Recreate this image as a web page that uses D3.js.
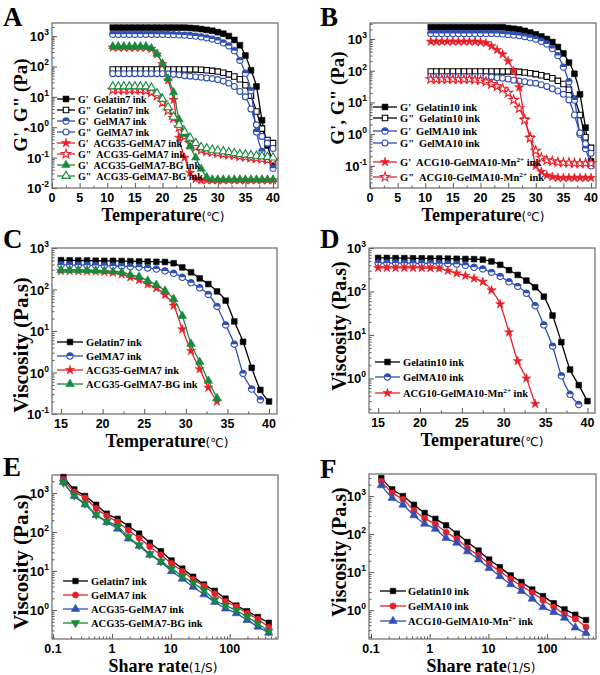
<!DOCTYPE html>
<html><head><meta charset="utf-8">
<script src="https://cdn.jsdelivr.net/npm/d3@7"></script>
<style>body{margin:0;background:#fff}</style>
</head><body>
<svg id="c" width="600" height="675" xmlns="http://www.w3.org/2000/svg"></svg>
<script>
// ---------------- DATA ----------------
const tempA = [11,12,13,14,15,16,17,18,19,20,21,22,23,24,25,26,27,28,29,30,31,32,33,34,35,36,37,38,39,40];
const gelatin7Gp  = [1900,1900,1900,1900,1900,1900,1900,1900,1900,1900,1900,1900,1900,1900,1850,1800,1700,1600,1500,1350,1200,1000,750,500,230,75,22,1.7,0.25,0.07];
const gelatin7Gpp = [80,80,80,80,80,80,80,80,80,80,80,80,80,80,80,80,78,75,72,68,62,55,47,38,24,11,3.3,0.9,0.38,0.3];
const gelma7Gp    = [1150,1150,1150,1150,1150,1150,1150,1150,1150,1150,1140,1120,1100,1080,1050,1000,950,880,800,720,600,480,330,160,60,16,0.7,0.16,0.09,0.045];
const gelma7Gpp   = [58,58,58,58,58,58,58,58,58,58,57,55,53,50,48,46,44,42,40,37,33,28,22,15,10,4,1.2,0.5,0.3,0.2];
const acg35Gp     = [420,420,420,420,420,420,420,380,250,120,35,8,0.45,0.1,0.032,0.02,0.018,0.018,0.018,0.018,0.018,0.018,0.018,0.018,0.018,0.018,0.018,0.018,0.018,0.018];
const acg35Gpp    = [17,17,17,17,17,17,16,14,11,6.5,3.5,2,1,0.5,0.3,0.22,0.18,0.16,0.15,0.14,0.13,0.125,0.12,0.11,0.105,0.1,0.095,0.09,0.085,0.08];
const acg35bgGp   = [460,460,460,460,460,460,460,400,260,125,40,14,1.8,0.6,0.23,0.1,0.043,0.023,0.019,0.019,0.019,0.019,0.019,0.019,0.019,0.019,0.019,0.019,0.019,0.019];
const acg35bgGpp  = [22,22,22,22,22,22,22,20,13,8.5,4.5,2.2,1.2,0.7,0.45,0.3,0.22,0.2,0.18,0.17,0.16,0.15,0.14,0.13,0.125,0.12,0.115,0.11,0.105,0.1];

const tempB = [11,12,13,14,15,16,17,18,19,20,21,22,23,24,25,26,27,28,29,30,31,32,33,34,35,36,37,38,39,40];
const gelatin10Gp  = [2350,2350,2350,2350,2350,2350,2350,2350,2350,2350,2350,2350,2350,2350,2200,2100,2000,1800,1600,1400,1200,1000,800,560,350,180,80,18,1.6,0.14];
const gelatin10Gpp = [95,95,95,95,95,95,95,95,95,95,95,95,95,95,95,94,92,88,83,78,72,65,58,48,38,25,13,4,0.8,0.37];
const gelma10Gp    = [1500,1500,1500,1500,1500,1500,1500,1500,1500,1500,1500,1500,1480,1450,1400,1350,1280,1200,1100,1000,850,700,500,300,130,45,12,1.0,0.35,0.1];
const gelma10Gpp   = [66,66,66,66,66,66,66,66,66,66,65,63,60,58,55,50,47,45,42,40,36,32,27,23,18,12,4,1.1,0.5,0.25];
const acg10Gp      = [830,830,830,830,830,830,830,830,830,800,750,600,450,330,200,100,30,3,0.8,0.1,0.065,0.05,0.045,0.042,0.042,0.042,0.042,0.042,0.042,0.042];
const acg10Gpp     = [54,54,54,54,54,54,54,54,52,50,45,38,32,27,20,12,6.5,2.8,0.75,0.3,0.18,0.15,0.14,0.13,0.125,0.125,0.12,0.12,0.12,0.12];

const tempC = [15,16.04,17.08,18.13,19.17,20.21,21.25,22.29,23.33,24.38,25.42,26.46,27.5,28.54,29.58,30.63,31.67,32.71,33.75,34.79,35.83,36.88,37.92,38.96,40];
const viscGelatin7 = [510,505,500,500,495,490,490,485,480,475,470,465,460,430,340,260,185,135,90,54,17,5.5,1.3,0.38,0.2];
const viscGelma7   = [390,390,385,385,380,375,370,365,355,345,330,310,280,245,197,145,110,76,39,14,4.8,0.95,0.4,0.22];
const viscAcg35    = [280,280,278,275,272,265,255,233,197,170,134,108,74,41,11,3.3,1.2,0.43,0.2];
const viscAcg35bg  = [295,295,292,290,285,280,270,260,225,204,163,129,93,59,23,4.9,1.8,0.63,0.24];

const tempD = [15,16.04,17.08,18.13,19.17,20.21,21.25,22.29,23.33,24.38,25.42,26.46,27.5,28.54,29.58,30.63,31.67,32.71,33.75,34.79,35.83,36.88,37.92,38.96,40];
const viscGelatin10 = [590,590,585,585,580,580,575,575,570,565,560,555,540,490,410,310,240,178,125,76,28,6.8,1.6,0.7,0.3];
const viscGelma10   = [450,450,450,448,445,445,440,435,430,425,400,360,330,275,222,167,131,91,47,17,5.5,1.15,0.43,0.25];
const viscAcg10     = [350,350,350,350,350,348,345,340,300,262,230,200,167,107,51,11.5,2.5,1.0,0.26];

const shearE = [0.15,0.23,0.35,0.54,0.82,1.25,1.9,2.9,4.4,6.8,10.3,15.7,24,36.6,55.8,85,130,198,302,460];
const shearGelatin7 = [2570,1240,840,500,295,218,142,91,53,32,18.6,11.5,7.1,4.5,3.1,1.96,1.3,0.93,0.66,0.47];
const shearGelma7   = [2250,1070,750,400,260,180,110,70,42,26,15.6,9.8,6.1,4.1,2.6,1.67,1.2,0.82,0.58,0.36];
const shearAcg35    = [1900,840,510,270,180,121,68,44,26,17,9.8,6.3,3.9,2.5,1.6,1.08,0.82,0.55,0.37,0.26];
const shearAcg35bg  = [1850,870,535,278,188,140,75,46,27.5,17.7,11.5,7.4,4.9,3.2,1.8,1.3,0.98,0.66,0.45,0.28];

const shearF = [0.15,0.23,0.35,0.54,0.82,1.25,1.9,2.9,4.4,6.8,10.3,15.7,24,36.6,55.8,85,130,198,302,460];
const shearGelatin10 = [2970,1500,1000,590,360,252,170,103,62,37,21.5,13.5,8.2,5.5,3.5,2.35,1.52,1.05,0.76,0.55];
const shearGelma10   = [2440,1220,820,415,262,182,112,76,43,27.5,16.5,10.5,6.6,4.3,2.9,1.83,1.21,0.79,0.59,0.36];
const shearAcg10     = [1910,890,590,310,187,137,78,59,35,21.5,12.8,7.8,4.8,3.2,2.0,1.2,0.89,0.63,0.35,0.25];

const tempTicks = [0,5,10,15,20,25,30,35,40];
const tempTicksCD = [15,20,25,30,35,40];
const shearTicks = [0.1,1,10,100];

// ---------------- DRAW ----------------
const svg = d3.select('#c');
const SERIF = '"Liberation Serif","Times New Roman",serif';
const SANS = '"Liberation Sans",Arial,sans-serif';
const K = '#000000', BL = '#2f4fb4', RD = '#e8202a', GR = '#178a3c';

function marker(g, shape, mode, color, cx, cy, sz) {
  if (shape === 'circle' && mode === 'half') {
    const r = Math.sqrt(sz / Math.PI);
    const mg = g.append('g').attr('transform', `translate(${cx},${cy})`);
    mg.append('circle').attr('r', r).attr('fill', '#fff');
    mg.append('path').attr('d', `M${-r},0 A${r},${r} 0 0 1 ${r},0 Z`).attr('fill', color);
    mg.append('circle').attr('r', r).attr('fill', 'none').attr('stroke', color).attr('stroke-width', 1.1);
    return;
  }
  const types = {square: d3.symbolSquare, circle: d3.symbolCircle, star: d3.symbolStar, tri: d3.symbolTriangle, tridown: d3.symbolTriangle};
  const rot = shape === 'tridown' ? ' rotate(180)' : '';
  g.append('path')
    .attr('d', d3.symbol(types[shape], sz)())
    .attr('transform', `translate(${cx},${cy})${rot}`)
    .attr('fill', mode === 'open' ? '#fff' : color)
    .attr('stroke', color)
    .attr('stroke-width', mode === 'open' ? 1.1 : 0.6);
}

function supLabel(g, xpos, ypos, exp, anchor) {
  const t = g.append('text').attr('x', xpos).attr('y', ypos).attr('text-anchor', anchor)
    .attr('font-family', SANS).attr('font-weight', 'bold').attr('font-size', 13);
  t.append('tspan').text('10');
  t.append('tspan').attr('dy', -6).attr('font-size', 8.5).text(exp);
}

function drawPanel(p) {
  const g = svg.append('g');
  const x = (p.xlog ? d3.scaleLog() : d3.scaleLinear()).domain(p.xdom).range([p.L, p.R]);
  const y = d3.scaleLog().domain(p.ydom).range([p.B, p.T]);

  const yMinor = [];
  for (let e = Math.floor(Math.log10(p.ydom[0])); e <= Math.ceil(Math.log10(p.ydom[1])); e++)
    for (let m = 2; m < 10; m++) { const v = m * Math.pow(10, e); if (v >= p.ydom[0] && v <= p.ydom[1]) yMinor.push(v); }
  let xMinor = [];
  if (p.xlog) {
    for (let e = -2; e <= 3; e++) for (let m = 2; m < 10; m++) { const v = m * Math.pow(10, e); if (v >= p.xdom[0] && v <= p.xdom[1]) xMinor.push(v); }
  } else {
    const st = p.xticks[1] - p.xticks[0];
    for (let v = p.xticks[0] + st / 2; v < p.xdom[1]; v += st) xMinor.push(v);
  }

  const axStyle = sel => { sel.select('.domain').remove(); sel.selectAll('line').attr('stroke', '#555'); };
  g.append('g').attr('transform', `translate(${p.L},0)`).call(d3.axisLeft(y).tickValues(yMinor).tickSize(-2.5).tickFormat('')).call(axStyle);
  g.append('g').attr('transform', `translate(${p.L},0)`).call(d3.axisLeft(y).tickValues(p.yticks).tickSize(-5).tickFormat('')).call(axStyle);
  g.append('g').attr('transform', `translate(0,${p.B})`).call(d3.axisBottom(x).tickValues(xMinor).tickSize(-2.5).tickFormat('')).call(axStyle);
  g.append('g').attr('transform', `translate(0,${p.B})`).call(d3.axisBottom(x).tickValues(p.xticks).tickSize(-5).tickFormat('')).call(axStyle);

  g.append('rect').attr('x', p.L).attr('y', p.T).attr('width', p.R - p.L).attr('height', p.B - p.T)
    .attr('fill', 'none').attr('stroke', '#6a6a6a').attr('stroke-width', 1.2);

  p.yticks.forEach(v => supLabel(g, p.L - 3, y(v) + 5, String(Math.round(Math.log10(v))), 'end'));
  p.xticks.forEach(v => g.append('text').attr('x', x(v)).attr('y', p.B + 14).attr('text-anchor', 'middle')
    .attr('font-family', SANS).attr('font-weight', 'bold').attr('font-size', 12.5).text(String(v)));

  p.series.forEach(s => {
    const line = d3.line().x((d, i) => x(s.x[i])).y(d => y(d)).curve(d3.curveMonotoneX);
    g.append('path').attr('d', line(s.y)).attr('fill', 'none').attr('stroke', s.color).attr('stroke-width', 1.3);
    s.y.forEach((v, i) => marker(g, s.shape, s.mode, s.color, x(s.x[i]), y(v), s.size));
  });

  p.series.forEach((s, i) => {
    const ly = p.leg.ys[i];
    g.append('line').attr('x1', p.leg.x0).attr('x2', p.leg.x1).attr('y1', ly).attr('y2', ly).attr('stroke', s.color).attr('stroke-width', 1.3);
    marker(g, s.shape, s.mode, s.color, (p.leg.x0 + p.leg.x1) / 2, ly, s.size);
    const t = g.append('text').attr('x', p.leg.tx).attr('y', ly + 3.6).attr('font-family', SERIF)
      .attr('font-weight', 'bold').attr('font-size', p.leg.fs);
    s.label.forEach(part => {
      const ts = t.append('tspan').text(part.t);
      if (part.dx) ts.attr('dx', part.dx);
      if (part.sup) ts.attr('dy', -4).attr('font-size', p.leg.fs * 0.68);
      if (part.down) ts.attr('dy', 4);
    });
  });

  svg.append('text').attr('x', p.letter[0]).attr('y', p.letter[1]).attr('font-family', SERIF)
    .attr('font-weight', 'bold').attr('font-size', 27).text(p.letter[2]);
  const xt = svg.append('text').attr('x', p.xtitle.x).attr('y', p.B + 33).attr('text-anchor', 'middle')
    .attr('font-family', SERIF);
  xt.append('tspan').attr('font-weight', 'bold').attr('font-size', 18).text(p.xtitle.main);
  xt.append('tspan').attr('font-size', 12).attr('font-family', '"DejaVu Sans",' + SANS).text(p.xtitle.unit);
  svg.append('text').attr('transform', `translate(${p.ytitle.x},${p.ytitle.y}) rotate(-90)`).attr('text-anchor', 'middle')
    .attr('font-family', SERIF).attr('font-weight', 'bold').attr('font-size', p.ytitle.fs).text(p.ytitle.t);
}

const lab = (a, b) => [{t: a}, {t: b, dx: 5}];
const labMn = (a, b) => [{t: a}, {t: b, dx: a ? 5 : 0}, {t: '2+', sup: true}, {t: ' ink', down: true}];

drawPanel({
  L: 52, R: 278, T: 23, B: 188, xdom: [0, 40.9], ydom: [0.01, 2700], xticks: tempTicks, yticks: [0.01, 0.1, 1, 10, 100, 1000],
  series: [
    {x: tempA, y: gelatin7Gp, color: K, shape: 'square', mode: 'filled', size: 34, label: lab("G'", 'Gelatin7 ink')},
    {x: tempA, y: gelatin7Gpp, color: K, shape: 'square', mode: 'open', size: 30, label: lab('G"', 'Gelatin7 ink')},
    {x: tempA, y: gelma7Gp, color: BL, shape: 'circle', mode: 'half', size: 30, label: lab("G'", 'GelMA7 ink')},
    {x: tempA, y: gelma7Gpp, color: BL, shape: 'circle', mode: 'open', size: 28, label: lab('G"', 'GelMA7 ink')},
    {x: tempA, y: acg35Gp, color: RD, shape: 'star', mode: 'filled', size: 26, label: lab("G'", 'ACG35-GelMA7 ink')},
    {x: tempA, y: acg35Gpp, color: RD, shape: 'star', mode: 'open', size: 26, label: lab('G"', 'ACG35-GelMA7 ink')},
    {x: tempA, y: acg35bgGp, color: GR, shape: 'tri', mode: 'filled', size: 30, label: lab("G'", 'ACG35-GelMA7-BG ink')},
    {x: tempA, y: acg35bgGpp, color: GR, shape: 'tri', mode: 'open', size: 30, label: lab('G"', 'ACG35-GelMA7-BG ink')}
  ],
  leg: {x0: 57, x1: 75, tx: 78, fs: 10, ys: [99, 110, 121, 132, 143, 154, 165, 176]},
  letter: [3, 26, 'A'], xtitle: {x: 163, main: 'Temperature', unit: '(℃)'}, ytitle: {x: 27, y: 105, t: 'G\', G" (Pa)', fs: 19}
});

drawPanel({
  L: 370, R: 596, T: 23, B: 188, xdom: [0, 40.9], ydom: [0.02, 3200], xticks: tempTicks, yticks: [0.1, 1, 10, 100, 1000],
  series: [
    {x: tempB, y: gelatin10Gp, color: K, shape: 'square', mode: 'filled', size: 34, label: lab("G'", 'Gelatin10 ink')},
    {x: tempB, y: gelatin10Gpp, color: K, shape: 'square', mode: 'open', size: 30, label: lab('G"', 'Gelatin10 ink')},
    {x: tempB, y: gelma10Gp, color: BL, shape: 'circle', mode: 'half', size: 30, label: lab("G'", 'GelMA10 ink')},
    {x: tempB, y: gelma10Gpp, color: BL, shape: 'circle', mode: 'open', size: 28, label: lab('G"', 'GelMA10 ink')},
    {x: tempB, y: acg10Gp, color: RD, shape: 'star', mode: 'filled', size: 26, label: labMn("G'", 'ACG10-GelMA10-Mn')},
    {x: tempB, y: acg10Gpp, color: RD, shape: 'star', mode: 'open', size: 26, label: labMn('G"', 'ACG10-GelMA10-Mn')}
  ],
  leg: {x0: 373, x1: 397, tx: 400, fs: 10.5, ys: [107, 118, 131, 143, 162, 177]},
  letter: [320, 26, 'B'], xtitle: {x: 483, main: 'Temperature', unit: '(℃)'}, ytitle: {x: 344, y: 98, t: 'G\', G" (Pa)', fs: 19}
});

drawPanel({
  L: 52, R: 277, T: 248, B: 414, xdom: [13.92, 40.96], ydom: [0.1, 1000], xticks: tempTicksCD, yticks: [0.1, 1, 10, 100, 1000],
  series: [
    {x: tempC, y: viscGelatin7, color: K, shape: 'square', mode: 'filled', size: 32, label: [{t: 'Gelatin7 ink'}]},
    {x: tempC, y: viscGelma7, color: BL, shape: 'circle', mode: 'half', size: 32, label: [{t: 'GelMA7 ink'}]},
    {x: tempC, y: viscAcg35, color: RD, shape: 'star', mode: 'filled', size: 26, label: [{t: 'ACG35-GelMA7 ink'}]},
    {x: tempC, y: viscAcg35bg, color: GR, shape: 'tri', mode: 'filled', size: 32, label: [{t: 'ACG35-GelMA7-BG ink'}]}
  ],
  leg: {x0: 57, x1: 83, tx: 86, fs: 10.5, ys: [342, 356, 370, 384]},
  letter: [3, 248, 'C'], xtitle: {x: 167, main: 'Temperature', unit: '(℃)'}, ytitle: {x: 28, y: 345, t: 'Viscosity (Pa.s)', fs: 21}
});

drawPanel({
  L: 369, R: 595, T: 248, B: 413, xdom: [13.91, 40.9], ydom: [0.16, 1000], xticks: tempTicksCD, yticks: [1, 10, 100, 1000],
  series: [
    {x: tempD, y: viscGelatin10, color: K, shape: 'square', mode: 'filled', size: 32, label: [{t: 'Gelatin10 ink'}]},
    {x: tempD, y: viscGelma10, color: BL, shape: 'circle', mode: 'half', size: 32, label: [{t: 'GelMA10 ink'}]},
    {x: tempD, y: viscAcg10, color: RD, shape: 'star', mode: 'filled', size: 26, label: labMn('', 'ACG10-GelMA10-Mn')}
  ],
  leg: {x0: 375, x1: 400, tx: 403, fs: 10.5, ys: [362, 377, 393]},
  letter: [320, 248, 'D'], xtitle: {x: 482, main: 'Temperature', unit: '(℃)'}, ytitle: {x: 346, y: 326, t: 'Viscosity (Pa.s)', fs: 20}
});

drawPanel({
  L: 52, R: 278, T: 475, B: 639, xlog: true, xdom: [0.096, 661], ydom: [0.18, 2900], xticks: shearTicks, yticks: [1, 10, 100, 1000],
  series: [
    {x: shearE, y: shearGelatin7, color: K, shape: 'square', mode: 'filled', size: 30, label: [{t: 'Gelatin7 ink'}]},
    {x: shearE, y: shearGelma7, color: RD, shape: 'circle', mode: 'filled', size: 30, label: [{t: 'GelMA7 ink'}]},
    {x: shearE, y: shearAcg35, color: BL, shape: 'tri', mode: 'filled', size: 30, label: [{t: 'ACG35-GelMA7 ink'}]},
    {x: shearE, y: shearAcg35bg, color: GR, shape: 'tridown', mode: 'filled', size: 30, label: [{t: 'ACG35-GelMA7-BG ink'}]}
  ],
  leg: {x0: 63, x1: 88, tx: 91, fs: 10.5, ys: [581, 595, 609, 623]},
  letter: [3, 476, 'E'], xtitle: {x: 163, main: 'Share rate', unit: '(1/S)'}, ytitle: {x: 28, y: 562, t: 'Viscosity (Pa.s)', fs: 21}
});

drawPanel({
  L: 369, R: 596, T: 474, B: 639, xlog: true, xdom: [0.0925, 680], ydom: [0.175, 3800], xticks: shearTicks, yticks: [1, 10, 100, 1000],
  series: [
    {x: shearF, y: shearGelatin10, color: K, shape: 'square', mode: 'filled', size: 30, label: [{t: 'Gelatin10 ink'}]},
    {x: shearF, y: shearGelma10, color: RD, shape: 'circle', mode: 'filled', size: 30, label: [{t: 'GelMA10 ink'}]},
    {x: shearF, y: shearAcg10, color: BL, shape: 'tri', mode: 'filled', size: 30, label: labMn('', 'ACG10-GelMA10-Mn')}
  ],
  leg: {x0: 380, x1: 406, tx: 408, fs: 10.5, ys: [591, 606, 621]},
  letter: [320, 478, 'F'], xtitle: {x: 481, main: 'Share rate', unit: '(1/S)'}, ytitle: {x: 346, y: 552, t: 'Viscosity (Pa.s)', fs: 20}
});
</script>
</body></html>
